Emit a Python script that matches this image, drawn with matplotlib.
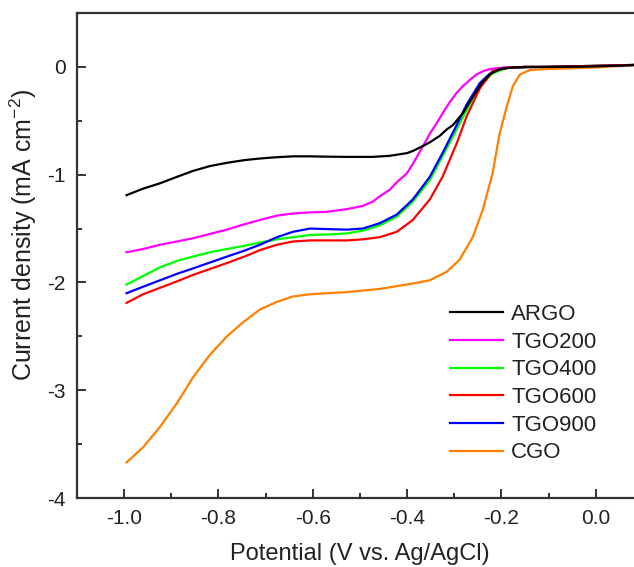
import matplotlib
matplotlib.use("Agg")
import matplotlib.pyplot as plt
from matplotlib.ticker import MultipleLocator

plt.rcParams['font.family'] = ['Liberation Sans', 'DejaVu Sans']
plt.rcParams['mathtext.default'] = 'regular'
plt.rcParams['axes.unicode_minus'] = False

# ---- data ----
argo_x = [-0.995, -0.96, -0.924, -0.888, -0.854, -0.818, -0.782, -0.745, -0.712, -0.676, -0.642,
          -0.606, -0.57, -0.528, -0.473, -0.437, -0.40, -0.388, -0.367, -0.352, -0.331, -0.316,
          -0.303, -0.282, -0.261, -0.240, -0.225, -0.204, -0.176, -0.10, 0.0, 0.1]
argo_y = [-1.19, -1.13, -1.08, -1.02, -0.965, -0.92, -0.89, -0.865, -0.85, -0.838, -0.83,
          -0.83, -0.833, -0.835, -0.835, -0.825, -0.80, -0.78, -0.735, -0.70, -0.64, -0.58,
          -0.54, -0.43, -0.28, -0.14, -0.07, -0.02, -0.005, 0.0, 0.005, 0.02]

tgo200_x = [-0.995, -0.96, -0.924, -0.888, -0.854, -0.818, -0.782, -0.745, -0.712, -0.676, -0.642,
            -0.606, -0.57, -0.528, -0.494, -0.473, -0.458, -0.437, -0.422, -0.401, -0.388, -0.367,
            -0.352, -0.337, -0.322, -0.310, -0.295, -0.282, -0.267, -0.253, -0.239, -0.225,
            -0.204, -0.189, -0.10, 0.0, 0.1]
tgo200_y = [-1.72, -1.69, -1.65, -1.62, -1.59, -1.55, -1.51, -1.46, -1.42, -1.38, -1.36,
            -1.35, -1.345, -1.32, -1.29, -1.25, -1.20, -1.14, -1.07, -0.99, -0.90, -0.74,
            -0.62, -0.52, -0.41, -0.33, -0.24, -0.18, -0.12, -0.07, -0.04, -0.02,
            -0.01, -0.003, 0.0, 0.008, 0.02]

tgo400_x = [-0.995, -0.96, -0.924, -0.888, -0.854, -0.818, -0.782, -0.745, -0.712, -0.676, -0.642,
            -0.606, -0.57, -0.528, -0.494, -0.458, -0.422, -0.388, -0.352, -0.325, -0.295,
            -0.274, -0.246, -0.219, -0.189, -0.15, -0.10, 0.0, 0.1]
tgo400_y = [-2.02, -1.94, -1.86, -1.80, -1.76, -1.72, -1.69, -1.66, -1.63, -1.60, -1.58,
            -1.56, -1.555, -1.545, -1.52, -1.47, -1.39, -1.25, -1.05, -0.83, -0.58,
            -0.40, -0.18, -0.06, -0.01, 0.0, 0.0, 0.01, 0.02]

tgo600_x = [-0.995, -0.96, -0.924, -0.888, -0.854, -0.818, -0.782, -0.745, -0.712, -0.676, -0.642,
            -0.606, -0.57, -0.528, -0.494, -0.458, -0.422, -0.388, -0.352, -0.325, -0.295,
            -0.274, -0.246, -0.219, -0.189, -0.15, -0.10, 0.0, 0.1]
tgo600_y = [-2.19, -2.11, -2.05, -1.99, -1.93, -1.875, -1.82, -1.76, -1.70, -1.65, -1.62,
            -1.61, -1.61, -1.61, -1.60, -1.58, -1.53, -1.42, -1.23, -1.02, -0.71,
            -0.46, -0.20, -0.04, -0.01, 0.0, 0.0, 0.01, 0.02]

tgo900_x = [-0.995, -0.96, -0.924, -0.888, -0.854, -0.818, -0.782, -0.745, -0.712, -0.676, -0.642,
            -0.606, -0.57, -0.528, -0.494, -0.458, -0.422, -0.388, -0.352, -0.325, -0.295,
            -0.274, -0.246, -0.219, -0.189, -0.15, -0.10, 0.0, 0.1]
tgo900_y = [-2.10, -2.04, -1.98, -1.92, -1.87, -1.815, -1.76, -1.705, -1.65, -1.58, -1.53,
            -1.50, -1.505, -1.51, -1.50, -1.45, -1.37, -1.23, -1.02, -0.80, -0.54,
            -0.35, -0.15, -0.04, -0.01, 0.0, 0.0, 0.01, 0.02]

cgo_x = [-0.995, -0.96, -0.924, -0.888, -0.854, -0.818, -0.782, -0.748, -0.712, -0.676, -0.642,
         -0.606, -0.57, -0.528, -0.458, -0.388, -0.352, -0.316, -0.289, -0.261, -0.240,
         -0.219, -0.204, -0.189, -0.176, -0.161, -0.140, -0.104, 0.0, 0.1]
cgo_y = [-3.67, -3.53, -3.34, -3.12, -2.88, -2.67, -2.50, -2.37, -2.25, -2.18, -2.13,
         -2.11, -2.10, -2.09, -2.06, -2.01, -1.98, -1.90, -1.79, -1.58, -1.33,
         -0.99, -0.62, -0.37, -0.18, -0.07, -0.03, -0.02, -0.005, 0.02]

labels = ['ARGO', 'TGO200', 'TGO400', 'TGO600', 'TGO900', 'CGO']
colors = ['#000000', '#FF00FF', '#00FF00', '#FF0000', '#0000FF', '#FF8000']
series = [(argo_x, argo_y), (tgo200_x, tgo200_y), (tgo400_x, tgo400_y),
          (tgo600_x, tgo600_y), (tgo900_x, tgo900_y), (cgo_x, cgo_y)]

xticks = [-1.0, -0.8, -0.6, -0.4, -0.2, 0.0]
yticks = [-4, -3, -2, -1, 0]

fig = plt.figure(figsize=(6.34, 5.67), dpi=100)
ax = fig.add_axes([77/634, 69/567, (643-77)/634, (498-13)/567])

draw_order = [5, 1, 2, 4, 3, 0]
lines = {}
for i in draw_order:
    xs, ys = series[i]
    ln, = ax.plot(xs, ys, color=colors[i], lw=1.6, label=labels[i])
    lines[i] = ln

ax.set_xlim(-1.1, 0.1)
ax.set_ylim(-4, 0.5)
ax.set_xticks(xticks)
ax.set_xticklabels([f"{t:.1f}" for t in xticks])
ax.set_yticks(yticks)
ax.set_yticklabels([str(t) for t in yticks])
ax.xaxis.set_minor_locator(MultipleLocator(0.1))
ax.yaxis.set_minor_locator(MultipleLocator(0.5))
ax.tick_params(which='both', direction='in', labelsize=15, width=1.4,
               top=False, right=False, colors='#333333', labelcolor='#222222')
ax.tick_params(which='major', length=6.5, pad=8)
ax.tick_params(which='minor', length=3.5)
for s in ax.spines.values():
    s.set_linewidth(1.6)
    s.set_color('#333333')

ax.set_xlabel('Potential (V vs. Ag/AgCl)', fontsize=17, color='#222222', labelpad=11)
ax.set_ylabel('Current density (mA cm$^{-2}$)', fontsize=18, color='#222222')
ax.yaxis.set_label_coords(-0.068, 0.542)

handles = [lines[i] for i in range(6)]
leg = fig.legend(handles, labels, loc='upper left', bbox_to_anchor=(450/634, 1-304/567),
                 frameon=False, fontsize=16, handlelength=2.4, handletextpad=0.35,
                 labelspacing=0.3, borderpad=0, borderaxespad=0)
for t in leg.get_texts():
    t.set_color('#222222')

fig.savefig('out.png', dpi=100)
